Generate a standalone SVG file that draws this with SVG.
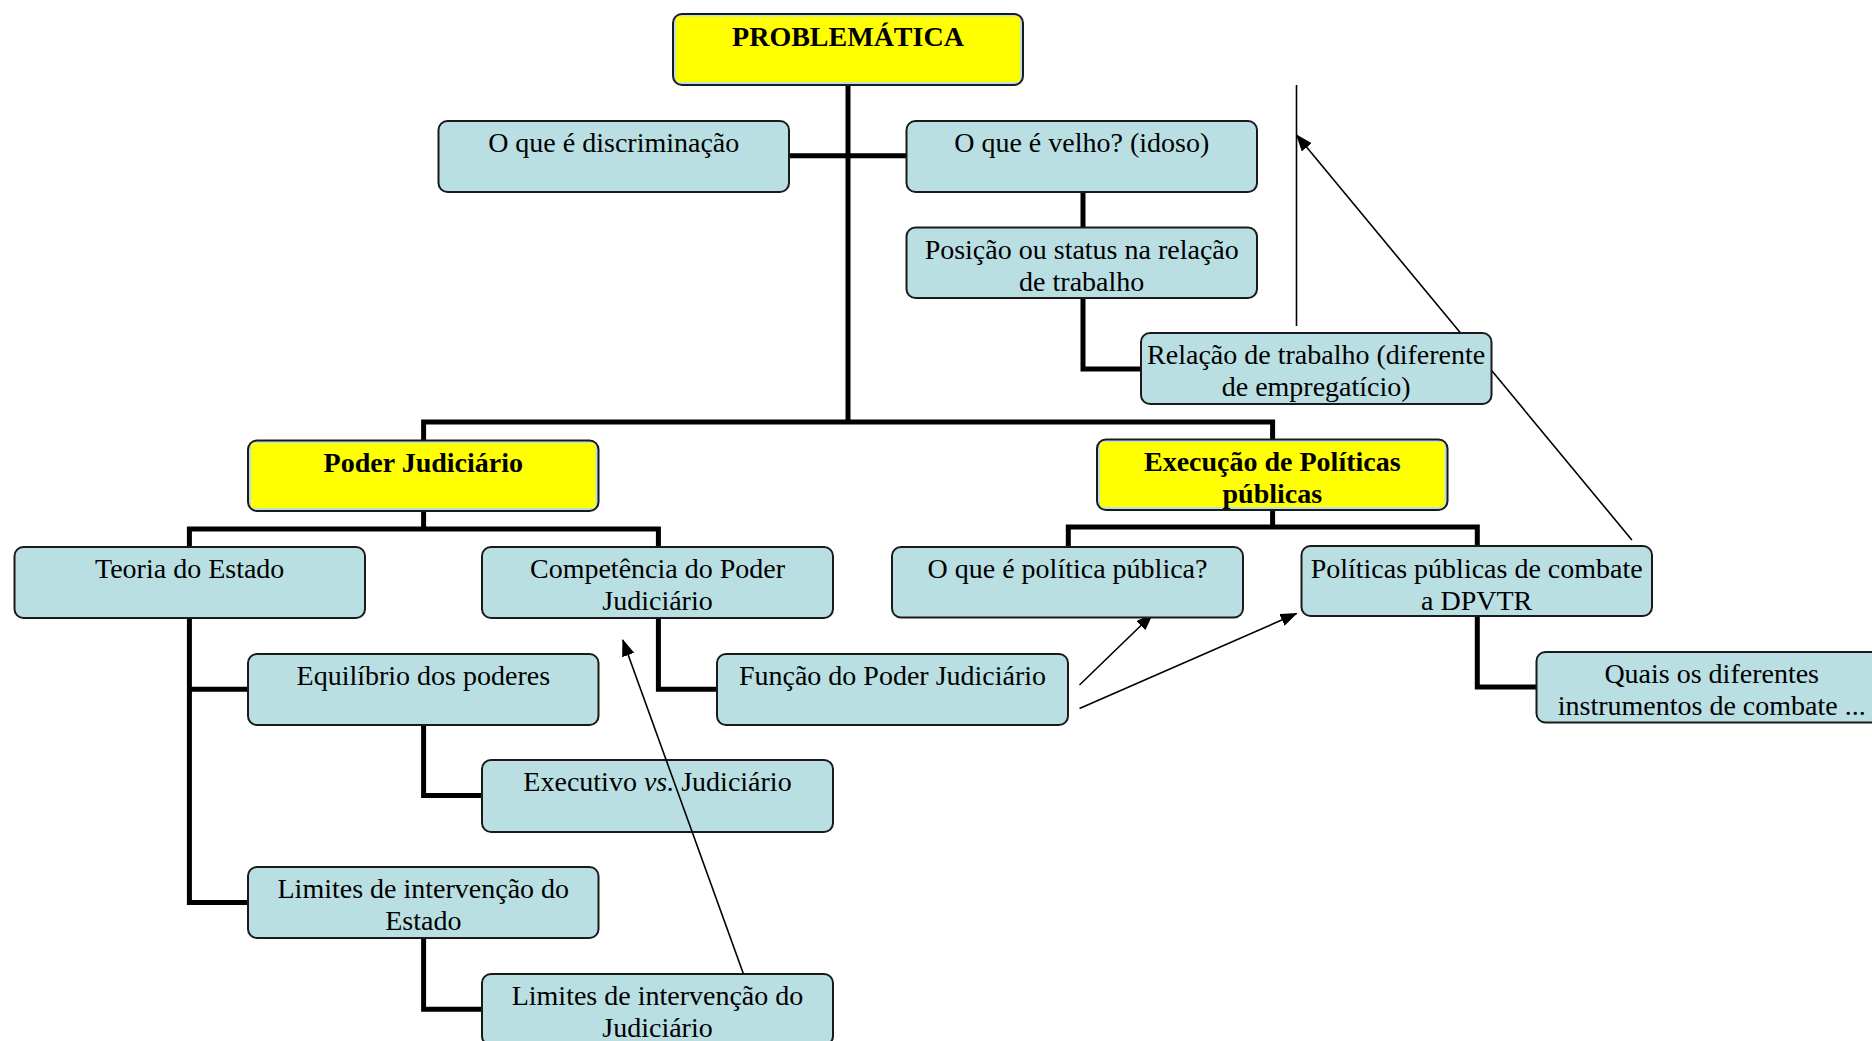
<svg xmlns="http://www.w3.org/2000/svg" width="1872" height="1041" viewBox="0 0 1872 1041">
<defs>
<style>
.box{fill:#B9DFE3;stroke:#1a1a1a;stroke-width:2}
.hl{fill:#FFFF00}
.t{font-family:"Liberation Serif","Times New Roman",serif;font-size:28px;fill:#000;text-anchor:middle}
.b{font-weight:bold}
.thick{fill:none;stroke:#000;stroke-width:5;stroke-linejoin:miter;stroke-linecap:square}
.thin{fill:none;stroke:#000;stroke-width:1.6}
</style>
<marker id="ah" viewBox="0 0 17 13" refX="16" refY="6.5" markerWidth="17" markerHeight="13" markerUnits="userSpaceOnUse" orient="auto">
<path d="M0,0 L17,6.5 L0,13 Z" fill="#000"/>
</marker>
</defs>
<rect width="1872" height="1041" fill="#fff"/>
<g id="connectors">
<path class="thick" d="M848 85 V422 M423.6 422 H1272.6 M423.6 422 V440 M1272.6 422 V439"/>
<path class="thick" d="M789 155.7 H906"/>
<path class="thick" d="M1083 192 V227"/>
<path class="thick" d="M1083 298 V369 H1141"/>
<path class="thick" d="M423.6 511 V529 M189.4 529 H658.4 M189.4 529 V547 M658.4 529 V547"/>
<path class="thick" d="M189.4 618 V902.4 H248 M189.4 689.3 H248"/>
<path class="thick" d="M423.6 725 V795.4 H482"/>
<path class="thick" d="M423.6 938 V1009.3 H482"/>
<path class="thick" d="M658.4 618 V689.3 H717"/>
<path class="thick" d="M1272.6 510 V527 M1068.3 527 H1477.3 M1068.3 527 V547 M1477.3 527 V546"/>
<path class="thick" d="M1477.3 616 V687 H1536.5"/>
<path class="thin" d="M1296.5 85 V326"/>
<path class="thin" marker-end="url(#ah)" d="M1631.9 540 L1296.6 135"/>
<path class="thin" marker-end="url(#ah)" d="M1079.5 685 L1152.3 614.5"/>
<path class="thin" marker-end="url(#ah)" d="M1079.5 708.5 L1296.6 613.5"/>
</g>
<g id="n-problematica">
<rect class="box" x="673" y="14" width="350" height="71" rx="9"/>
<rect class="hl" x="676" y="16.5" width="344" height="65.5" rx="3"/>
<text class="t b" x="848" y="45.5">PROBLEMÁTICA</text>
</g>
<g id="n-discriminacao">
<rect class="box" x="438.5" y="121" width="350.5" height="71" rx="9"/>
<text class="t" x="613.7" y="152">O que é discriminação</text>
</g>
<g id="n-velho">
<rect class="box" x="906.5" y="121" width="350.5" height="71" rx="9"/>
<text class="t" x="1081.7" y="152">O que é velho? (idoso)</text>
</g>
<g id="n-posicao">
<rect class="box" x="906.5" y="227.5" width="350.5" height="70.5" rx="9"/>
<text class="t" x="1081.7" y="258.5">Posição ou status na relação</text>
<text class="t" x="1081.7" y="290.5">de trabalho</text>
</g>
<g id="n-relacao">
<rect class="box" x="1141" y="333" width="350.5" height="71" rx="9"/>
<text class="t" x="1316.2" y="364">Relação de trabalho (diferente</text>
<text class="t" x="1316.2" y="396">de empregatício)</text>
</g>
<g id="n-poder">
<rect class="box" x="248" y="440.5" width="350.5" height="70.5" rx="9"/>
<rect class="hl" x="251" y="443" width="344.5" height="65" rx="3"/>
<text class="t b" x="423.3" y="471.5">Poder Judiciário</text>
</g>
<g id="n-execucao">
<rect class="box" x="1097" y="439.5" width="350.5" height="70.5" rx="9"/>
<rect class="hl" x="1100" y="442" width="344.5" height="65" rx="3"/>
<text class="t b" x="1272.3" y="470.5">Execução de Políticas</text>
<text class="t b" x="1272.3" y="502.5">públicas</text>
</g>
<g id="n-teoria">
<rect class="box" x="14.5" y="547" width="350.5" height="71" rx="9"/>
<text class="t" x="189.7" y="578">Teoria do Estado</text>
</g>
<g id="n-competencia">
<rect class="box" x="482" y="547" width="351" height="71" rx="9"/>
<text class="t" x="657.5" y="578">Competência do Poder</text>
<text class="t" x="657.5" y="610">Judiciário</text>
</g>
<g id="n-politica">
<rect class="box" x="892" y="547" width="351" height="70.5" rx="9"/>
<text class="t" x="1067.5" y="578">O que é política pública?</text>
</g>
<g id="n-politicas-combate">
<rect class="box" x="1301.5" y="546" width="350.5" height="70" rx="9"/>
<text class="t" x="1476.7" y="578">Políticas públicas de combate</text>
<text class="t" x="1476.7" y="610">a DPVTR</text>
</g>
<g id="n-equilibrio">
<rect class="box" x="248" y="654" width="350.5" height="71" rx="9"/>
<text class="t" x="423.3" y="685">Equilíbrio dos poderes</text>
</g>
<g id="n-funcao">
<rect class="box" x="717" y="654" width="351" height="71" rx="9"/>
<text class="t" x="892.5" y="685">Função do Poder Judiciário</text>
</g>
<g id="n-quais">
<rect class="box" x="1536.5" y="652" width="350.5" height="70.5" rx="9"/>
<text class="t" x="1711.7" y="683">Quais os diferentes</text>
<text class="t" x="1711.7" y="715">instrumentos de combate ...</text>
</g>
<g id="n-executivo">
<rect class="box" x="482" y="760" width="351" height="72" rx="9"/>
<text class="t" x="657.5" y="791">Executivo <tspan font-style="italic">vs.</tspan> Judiciário</text>
</g>
<g id="n-limites-estado">
<rect class="box" x="248" y="867" width="350.5" height="71" rx="9"/>
<text class="t" x="423.3" y="898">Limites de intervenção do</text>
<text class="t" x="423.3" y="930">Estado</text>
</g>
<g id="n-limites-judiciario">
<rect class="box" x="482" y="974" width="351" height="71" rx="9"/>
<text class="t" x="657.5" y="1005">Limites de intervenção do</text>
<text class="t" x="657.5" y="1037">Judiciário</text>
</g>
<g id="connectors-overlay">
<path class="thin" marker-end="url(#ah)" d="M743.4 973.7 L622.8 640"/>
</g>
</svg>
